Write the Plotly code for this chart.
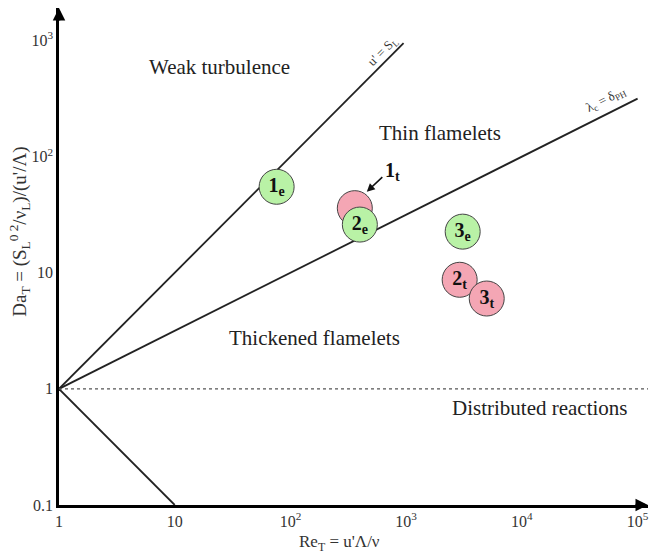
import plotly.graph_objects as go

# Regime boundaries of the combustion diagram (Re_T, Da_T)
flamelet_re = [1, 950]          # u' = S_L  -> Da = Re
flamelet_da = [1, 950]
kolmogorov_re = [1, 1e5]        # lambda_c = delta  -> Da = Re^0.5
kolmogorov_da = [1, 316]
lower_re = [1, 10]              # lower limit -> Da = 1/Re
lower_da = [1, 0.1]
unity_re = [1, 1.25e5]          # Da = 1
unity_da = [1, 1]

# Operating points
exp_names = ["1<sub>e</sub>", "2<sub>e</sub>", "3<sub>e</sub>"]
exp_re = [76, 398, 3080]
exp_da = [55, 26, 22.6]
th_names = ["", "2<sub>t</sub>", "3<sub>t</sub>"]
th_re = [360, 2900, 4970]
th_da = [36, 8.7, 6.0]

x_ticks = [1, 10, 100, 1e3, 1e4, 1e5]
x_text = ["1", "10", "10<sup>2</sup>", "10<sup>3</sup>", "10<sup>4</sup>", "10<sup>5</sup>"]
y_ticks = [0.1, 1, 10, 100, 1e3]
y_text = ["0.1", "1", "10", "10<sup>2</sup>", "10<sup>3</sup>"]

SERIF = "Liberation Serif"
PINK = "#f4a6b4"
GREEN = "#b9f2a6"


def bold(labels):
    return [f"<b>{t}</b>" if t else "" for t in labels]


fig = go.Figure()

for xs, ys in [(flamelet_re, flamelet_da), (kolmogorov_re, kolmogorov_da), (lower_re, lower_da)]:
    fig.add_trace(go.Scatter(x=xs, y=ys, mode="lines",
                             line=dict(color="#222", width=1.8), hoverinfo="skip"))
fig.add_trace(go.Scatter(x=unity_re, y=unity_da, mode="lines",
                         line=dict(color="#555", width=1.2, dash="dot"), hoverinfo="skip"))

point_font = dict(family=SERIF, size=20, color="#111")
# pink points first so the green 2e sits on top of 1t
fig.add_trace(go.Scatter(x=th_re[:2], y=th_da[:2], mode="markers+text", text=bold(th_names[:2]),
                         textposition="middle center", textfont=point_font,
                         marker=dict(size=35, color=PINK, line=dict(color="#444", width=1)),
                         cliponaxis=False))
fig.add_trace(go.Scatter(x=exp_re, y=exp_da, mode="markers+text", text=bold(exp_names),
                         textposition="middle center", textfont=point_font,
                         marker=dict(size=35, color=GREEN, line=dict(color="#444", width=1)),
                         cliponaxis=False))
# 3t drawn last so it overlaps 2t
fig.add_trace(go.Scatter(x=th_re[2:], y=th_da[2:], mode="markers+text", text=bold(th_names[2:]),
                         textposition="middle center", textfont=point_font,
                         marker=dict(size=35, color=PINK, line=dict(color="#444", width=1)),
                         cliponaxis=False))

ann = []
region_font = dict(family=SERIF, size=21, color="#222")
for txt, lx, ly in [("Weak turbulence", 1.39, 2.776), ("Thin flamelets", 3.29, 2.207),
                    ("Thickened flamelets", 2.21, 0.44), ("Distributed reactions", 4.154, -0.164)]:
    ann.append(dict(x=lx, y=ly, text=txt, showarrow=False, font=region_font))

ann.append(dict(x=2.80, y=2.905, text="u' = S<sub>L</sub>", showarrow=False, textangle=-45,
                font=dict(family=SERIF, size=13, color="#333")))
ann.append(dict(x=4.73, y=2.49, text="λ<sub>c</sub> = δ<sub>PH</sub>", showarrow=False,
                textangle=-26.6, font=dict(family=SERIF, size=13, color="#333")))

# label and pointer for 1t
ann.append(dict(x=2.66, y=1.698, text="", showarrow=True, arrowhead=2, arrowsize=1,
                arrowwidth=1.6, arrowcolor="#111", ax=17, ay=-16))
ann.append(dict(x=2.884, y=1.871, text="<b>1<sub>t</sub></b>", showarrow=False,
                font=dict(family=SERIF, size=20, color="#111")))

# axis arrowheads
ann.append(dict(x=5.09, y=-1, text="", showarrow=True, arrowhead=2, arrowsize=1,
                arrowwidth=2.5, arrowcolor="#000", ax=-14, ay=0))
ann.append(dict(x=0, y=3.28, text="", showarrow=True, arrowhead=2, arrowsize=1,
                arrowwidth=2.5, arrowcolor="#000", ax=0, ay=14))

# axis titles
ann.append(dict(xref="paper", yref="paper", x=0.477, y=-0.077, xanchor="center", yanchor="middle",
                text="Re<sub>T</sub> = u'Λ/ν",
                showarrow=False, font=dict(family=SERIF, size=17, color="#333")))
ann.append(dict(xref="paper", yref="paper", x=-0.066, y=0.55, xanchor="center", yanchor="middle",
                textangle=-90,
                text="Da<sub>T</sub> = (S<sub>L</sub><sup>0 2</sup>/ν<sub>L</sub>)/(u'/Λ)",
                showarrow=False, font=dict(family=SERIF, size=19, color="#333")))

fig.update_layout(
    width=651, height=555,
    margin=dict(l=59, r=3, t=8, b=50),
    paper_bgcolor="white", plot_bgcolor="white",
    showlegend=False,
    annotations=ann,
    font=dict(family=SERIF, size=15, color="#333"),
)
fig.update_xaxes(type="log", range=[0, 5.09], showgrid=False, zeroline=False,
                 showline=True, linewidth=2.5, linecolor="#000",
                 tickvals=x_ticks, ticktext=x_text, ticks="",
                 tickfont=dict(family=SERIF, size=16, color="#333"))
fig.update_yaxes(type="log", range=[-1, 3.28], showgrid=False, zeroline=False,
                 showline=True, linewidth=2.5, linecolor="#000",
                 tickvals=y_ticks, ticktext=y_text, ticks="",
                 tickfont=dict(family=SERIF, size=16, color="#333"))

fig.write_html("out.html")
